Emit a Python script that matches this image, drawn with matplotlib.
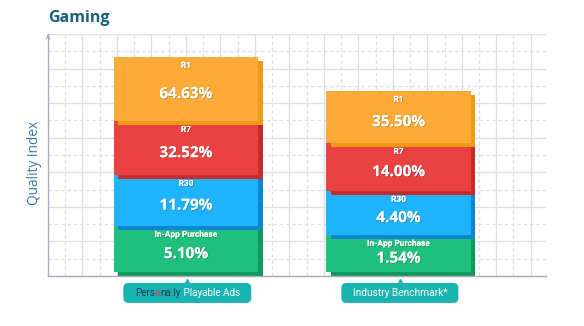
import matplotlib
matplotlib.use("Agg")
import matplotlib.pyplot as plt
import matplotlib.patheffects as pe
from matplotlib.patches import FancyBboxPatch

# categories and values (segments listed bottom -> top)
groups = ["Personaly Playable Ads", "Industry Benchmark*"]
segment_names = ["In-App Purchase", "R30", "R7", "R1"]
personaly_values = ["5.10%", "11.79%", "32.52%", "64.63%"]
benchmark_values = ["1.54%", "4.40%", "14.00%", "35.50%"]
# drawn heights of each block on the quality-index grid
personaly_heights = [2.66, 2.95, 3.12, 3.71]
benchmark_heights = [2.14, 2.55, 2.77, 3.01]

face_colors = ["#1fbf7e", "#1fb3fc", "#ea4242", "#fdab38"]
side_colors = ["#0f9a5b", "#0e86cf", "#c62a2a", "#ee9a12"]
teal = "#19b4b2"
grid_col = "#dedee8"
axis_col = "#a9a9c2"

FONT = ["Open Sans", "DejaVu Sans"]
SMALL = ["Roboto", "DejaVu Sans"]
plt.rcParams["font.family"] = FONT

fig = plt.figure(figsize=(5.84, 3.26), dpi=100)
ax = fig.add_axes([48 / 584, 50 / 326, 498 / 584, 242 / 326])
ax.set_xlim(0, 498 / 17.24)
ax.set_ylim(0, 14)

# grid: solid every second line, dashed in between
for i in range(1, 15):
    ax.axhline(i, color=grid_col, lw=0.9, ls="-" if i % 2 == 0 else (0, (3, 2)), zorder=0)
for i in range(1, 29):
    ax.axvline(i, color=grid_col, lw=0.9, ls="-" if i % 2 == 0 else (0, (3, 2)), zorder=0)

for s in ["top", "right"]:
    ax.spines[s].set_visible(False)
for s in ["left", "bottom"]:
    ax.spines[s].set_color(axis_col)
    ax.spines[s].set_linewidth(1.0)
ax.set_xticks([])
ax.set_yticks([])
ax.annotate("", xy=(0, 14.15), xytext=(0, 13.7),
            arrowprops=dict(arrowstyle="->", color=axis_col, lw=0.9, mutation_scale=6),
            annotation_clip=False)

centers = [8.0, 20.33]
width = 8.38
base = 0.22
sx, sy = 0.26, 0.2
shadow = [pe.withSimplePatchShadow(offset=(0.6, -0.6), shadow_rgbFace="#000000", alpha=0.25), pe.Normal()]

for xc, heights, values in zip(centers, [personaly_heights, benchmark_heights],
                               [personaly_values, benchmark_values]):
    bottom = base
    for k, (h, name, val) in enumerate(zip(heights, segment_names, values)):
        ax.bar(xc + sx, h, width=width, bottom=bottom - sy, color=side_colors[k], zorder=2 + k * 2)
        ax.bar(xc, h, width=width, bottom=bottom, color=face_colors[k], zorder=3 + k * 2)
        top = bottom + h
        name_y = top - 0.47
        ax.text(xc, name_y, name, ha="center", va="center", color="white", fontsize=6,
                fontweight="bold", family=SMALL, zorder=20, path_effects=shadow)
        ax.text(xc, (name_y + bottom) / 2 - 0.05, val, ha="center", va="center", color="white",
                fontsize=11, fontweight="bold", zorder=20, path_effects=shadow)
        bottom = top

# pill labels under the bars
pill_widths = [7.42, 6.79]
for xc, w in zip(centers, pill_widths):
    xc2 = xc + 0.08
    ax.add_patch(FancyBboxPatch((xc2 - w / 2 + 0.3, -1.56 + 0.3), w - 0.6, 1.16 - 0.6,
                                boxstyle="round,pad=0.3", fc=teal, ec="none",
                                clip_on=False, zorder=5))
    ax.plot(xc2, -0.33, marker="^", ms=4, color=teal, clip_on=False, zorder=5)

# "Personaly" logo text in pieces, chained one after another, then centred
pieces = [("Pers", "#1b3a50"), ("o", "#e23b3b"), ("na.ly", "#1b3a50"), (" Playable Ads", "white")]
first = ax.text(centers[0], -0.98, pieces[0][0], ha="left", va="center",
                color=pieces[0][1], fontsize=7.1, family=SMALL, zorder=6)
t = first
for txt, col in pieces[1:]:
    t = ax.annotate(txt, xy=(1, 0), xycoords=t, ha="left", va="bottom", color=col,
                    fontsize=7.1, family=SMALL, zorder=6, annotation_clip=False)
fig.canvas.draw()
r = fig.canvas.get_renderer()
span_px = t.get_window_extent(r).x1 - first.get_window_extent(r).x0
span = span_px / (ax.transData.transform((1, 0))[0] - ax.transData.transform((0, 0))[0])
first.set_x(centers[0] + 0.08 - span / 2)

ax.text(centers[1] + 0.12, -0.98, groups[1], ha="center", va="center", color="white",
        fontsize=7.3, family=SMALL, zorder=6)

fig.text(48 / 584, 1 - 18 / 326, "Gaming", ha="left", va="center", color="#1d5f80",
         fontsize=11.5, fontweight="bold")
fig.text(34 / 584, 1 - 163 / 326, "Quality Index", ha="center", va="center", rotation=90,
         color="#357aa6", fontsize=9.8)

fig.savefig("out.png", dpi=100)
